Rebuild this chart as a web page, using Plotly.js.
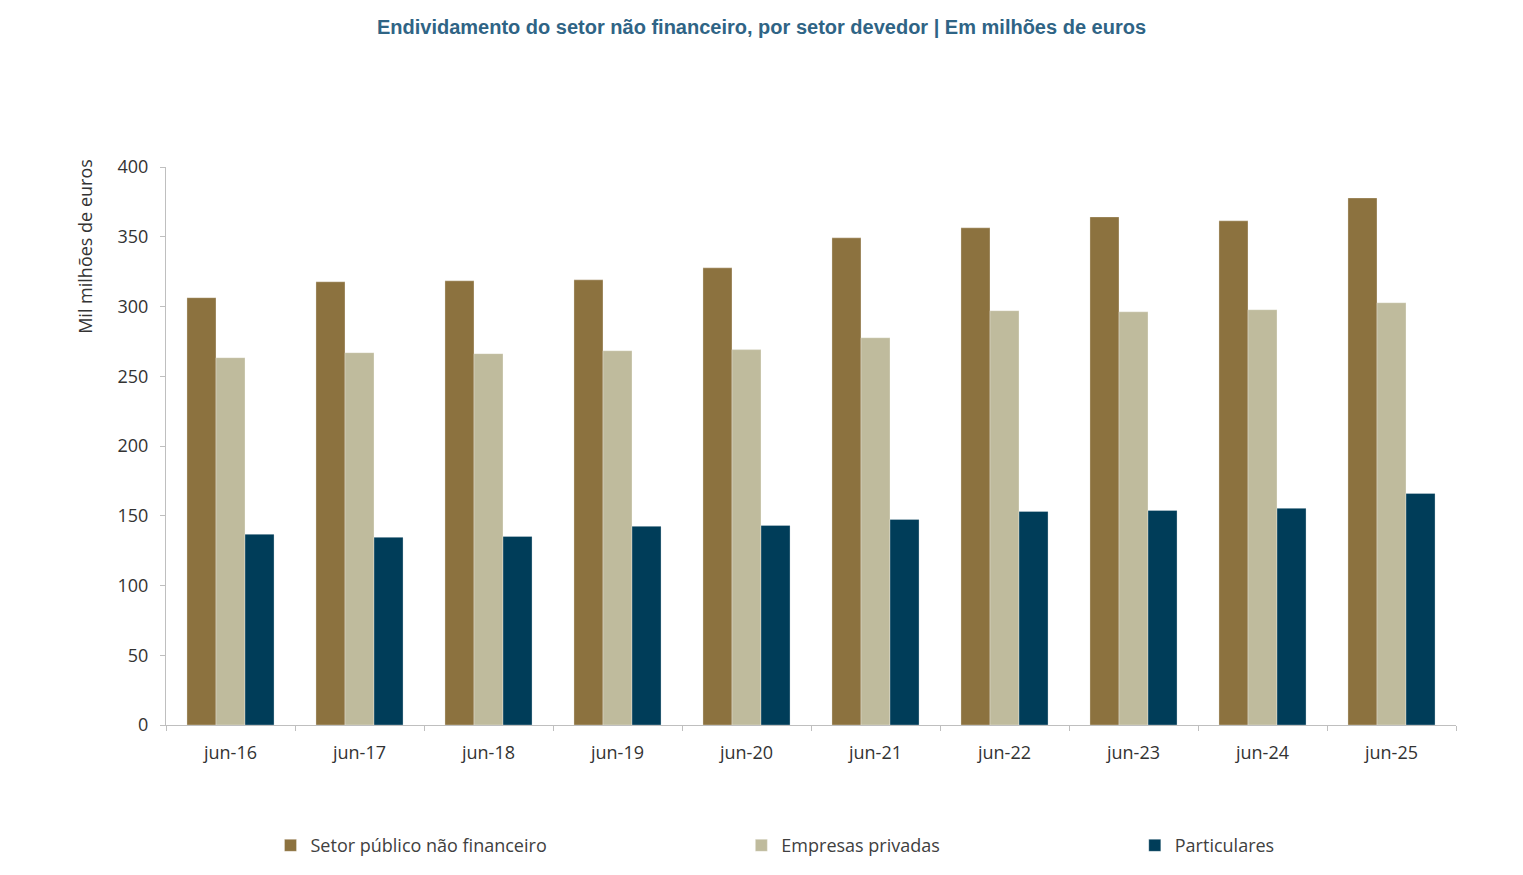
<!DOCTYPE html>
<html>
<head>
<meta charset="utf-8">
<script src="https://cdn.plot.ly/plotly-3.0.1.min.js"></script>
<style>
  body { margin: 0; background: #fff; }
  #chart { width: 1523px; height: 875px; }
</style>
</head>
<body>
<div id="chart"></div>
<script>
var categories = ['jun-16', 'jun-17', 'jun-18', 'jun-19', 'jun-20', 'jun-21', 'jun-22', 'jun-23', 'jun-24', 'jun-25'];
var setorPublico = [306.3, 317.7, 318.4, 319.1, 327.7, 349.2, 356.4, 364.2, 361.4, 377.8];
var empresasPrivadas = [263.3, 266.9, 266.2, 268.3, 269.1, 277.6, 297.0, 296.2, 297.7, 302.7];
var particulares = [136.7, 134.5, 135.2, 142.4, 143.1, 147.4, 153.1, 153.8, 155.3, 166.0];
var yTicks = [0, 50, 100, 150, 200, 250, 300, 350, 400];

function barTrace(name, values, color, legendId){
  return {
    type: 'bar',
    name: name,
    x: categories,
    y: values,
    legend: legendId,
    marker: {
      color: color,
      line: { color: 'rgba(255,255,255,0.6)', width: 0.5 }
    },
    hoverinfo: 'x+y+name'
  };
}

var data = [
  barTrace('Setor público não financeiro', setorPublico, '#8c723f', 'legend'),
  barTrace('Empresas privadas', empresasPrivadas, '#bfbb9d', 'legend2'),
  barTrace('Particulares', particulares, '#003d59', 'legend3')
];

var legendBase = {
  orientation: 'h',
  y: -0.214,
  yanchor: 'middle',
  xanchor: 'left',
  itemwidth: 30,
  font: { family: 'Open Sans', size: 18, color: '#404040' },
  bgcolor: 'rgba(0,0,0,0)'
};

var layout = {
  width: 1523,
  height: 875,
  paper_bgcolor: '#ffffff',
  plot_bgcolor: '#ffffff',
  font: { family: 'Open Sans', size: 18, color: '#333333' },
  title: {
    text: '<b>Endividamento do setor não financeiro, por setor devedor | Em milhões de euros</b>',
    font: { family: 'Liberation Sans, Arial', size: 20, color: '#2f6485' },
    x: 0.5,
    xanchor: 'center',
    y: 0.969,
    yanchor: 'middle'
  },
  barmode: 'group',
  bargap: 0.325,
  bargroupgap: 0,
  margin: { l: 166, r: 67, t: 167, b: 149, pad: 0 },
  showlegend: true,
  legend: Object.assign({}, legendBase, { x: 0.081 }),
  legend2: Object.assign({}, legendBase, { x: 0.446 }),
  legend3: Object.assign({}, legendBase, { x: 0.751 }),
  xaxis: {
    type: 'category',
    showline: true,
    linecolor: '#bfbfbf',
    linewidth: 1,
    ticks: 'outside',
    tickson: 'boundaries',
    ticklen: 5,
    tickcolor: '#bfbfbf',
    showgrid: false,
    zeroline: false,
    ticklabelstandoff: 11,
    tickfont: { family: 'Open Sans', size: 18, color: '#333333' }
  },
  yaxis: {
    range: [0, 400],
    tickvals: yTicks,
    showline: true,
    linecolor: '#bfbfbf',
    linewidth: 1,
    ticks: 'outside',
    ticklen: 5,
    tickcolor: '#bfbfbf',
    showgrid: false,
    zeroline: false,
    ticklabelstandoff: 8,
    tickfont: { family: 'Open Sans', size: 18, color: '#333333' }
  },
  // the axis title sits at the top of the axis, so it is drawn as an annotation
  annotations: [{
    text: 'Mil milhões de euros',
    textangle: -90,
    xref: 'paper',
    yref: 'paper',
    x: -0.0625,
    xanchor: 'center',
    y: 1.018,
    yanchor: 'top',
    showarrow: false,
    font: { family: 'Open Sans', size: 18, color: '#333333' }
  }]
};

Plotly.newPlot('chart', data, layout, { displayModeBar: false });
</script>
</body>
</html>
